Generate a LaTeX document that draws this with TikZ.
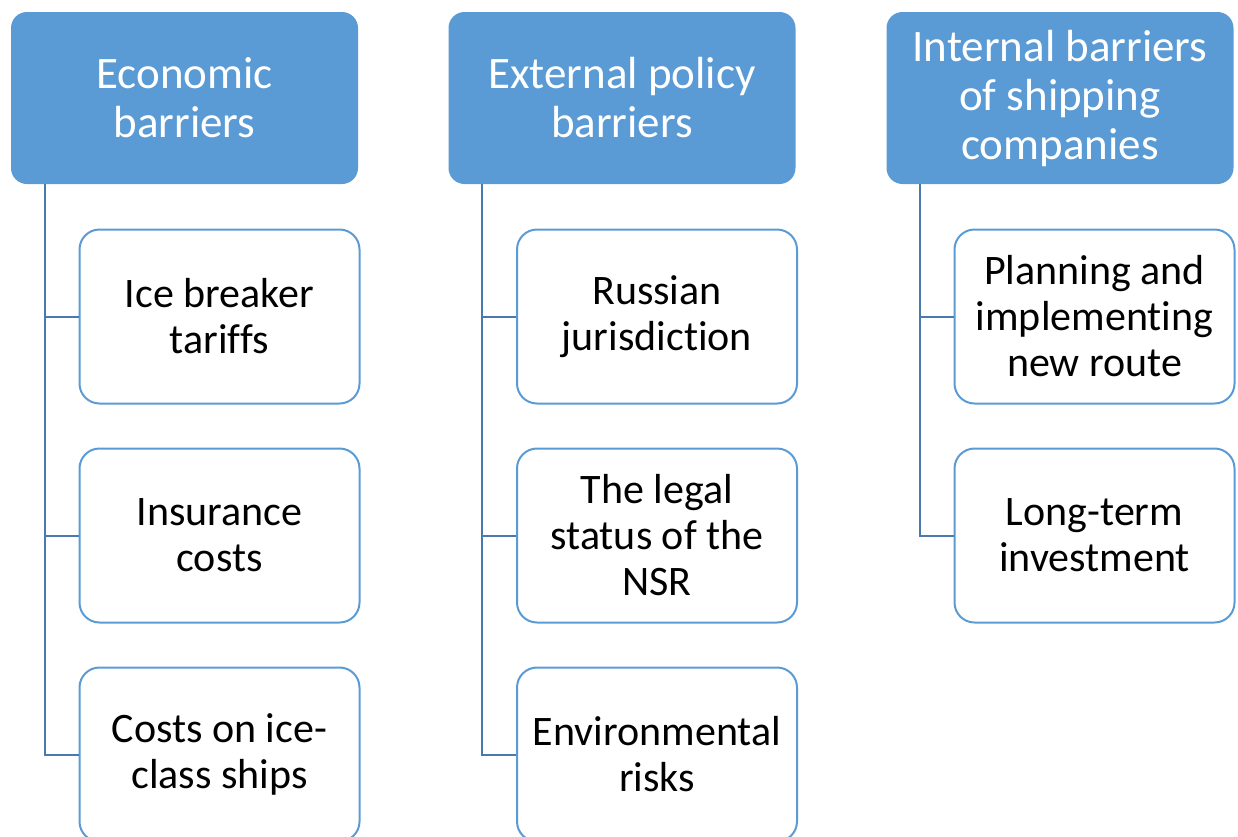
\documentclass[tikz,border=0pt]{standalone}
\usepackage{fontspec}
\setmainfont[Ligatures=NoCommon]{Carlito}
\begin{document}
\definecolor{accent}{RGB}{91,155,213}
\definecolor{linkc}{RGB}{72,122,176}
\begin{tikzpicture}[x=1pt,y=-1pt,
  header/.style={draw=none,fill=accent,rounded corners=16pt,minimum width=347pt,minimum height=172pt,
    text=white,align=center,font=\fontsize{45}{49}\selectfont,inner sep=0pt},
  item/.style={draw=accent,line width=2pt,fill=white,rounded corners=20pt,minimum width=280pt,minimum height=174pt,
    text=black,align=center,font=\fontsize{42}{46}\selectfont,inner sep=0pt},
  link/.style={draw=linkc,line width=2pt}]
\useasboundingbox (0,0) rectangle (1238,836);
\begin{scope}
\clip (0,0) rectangle (1238,836);
% column headers
\node[header] (h1) at (184.5,98) {Economic\\barriers};
\node[header] (h2) at (622,98) {External policy\\barriers};
\node[header] (h3) at (1060,98) {Internal barriers\\of shipping\\companies};
% column items
\node[item] (a1) at (219.5,316.5) {Ice breaker\\tariffs};
\node[item] (a2) at (219.5,535.5) {Insurance\\costs};
\node[item] (a3) at (219.5,754.5) {Costs on ice-\\class ships};
\node[item] (b1) at (657,316.5) {Russian\\jurisdiction};
\node[item] (b2) at (657,535.5) {The legal\\status of the\\NSR};
\node[item] (b3) at (657,754.5) {Environmental\\risks};
\node[item] (c1) at (1094.5,316.5) {Planning and\\implementing\\new route};
\node[item] (c2) at (1094.5,535.5) {Long-term\\investment};
% tree connectors
\draw[link] (h1.south west) ++(34,0) coordinate (t1) |- (a1.west);
\draw[link] (t1) |- (a2.west);
\draw[link] (t1) |- (a3.west);
\draw[link] (h2.south west) ++(34,0) coordinate (t2) |- (b1.west);
\draw[link] (t2) |- (b2.west);
\draw[link] (t2) |- (b3.west);
\draw[link] (h3.south west) ++(34,0) coordinate (t3) |- (c1.west);
\draw[link] (t3) |- (c2.west);
\end{scope}
\end{tikzpicture}
\end{document}
